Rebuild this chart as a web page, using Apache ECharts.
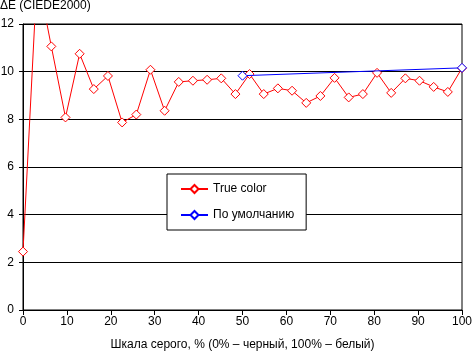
<!DOCTYPE html>
<html>
<head>
<meta charset="utf-8">
<script src="https://cdn.jsdelivr.net/npm/echarts@6/dist/echarts.min.js"></script>
<style>
html,body{margin:0;padding:0;background:#fff;}
#chart{width:472px;height:353px;}
</style>
</head>
<body>
<div id="chart"></div>
<script>
// Data
var trueColorX = [0, 3.23, 6.45, 9.68, 12.9, 16.13, 19.35, 22.58, 25.81, 29.03, 32.26, 35.48, 38.71, 41.94, 45.16, 48.39, 51.61, 54.84, 58.06, 61.29, 64.52, 67.74, 70.97, 74.19, 77.42, 80.65, 83.87, 87.1, 90.32, 93.55, 96.77, 100];
var trueColorY = [2.45, 14.1, 11.06, 8.08, 10.75, 9.27, 9.82, 7.87, 8.2, 10.08, 8.36, 9.57, 9.62, 9.66, 9.72, 9.06, 9.9, 9.06, 9.3, 9.2, 8.69, 8.98, 9.74, 8.92, 9.06, 9.95, 9.11, 9.72, 9.62, 9.36, 9.15, 10.15];
var defaultX = [50, 100];
var defaultY = [9.83, 10.16];
var yTicks = [0, 2, 4, 6, 8, 10, 12];
var xTicks = [0, 10, 20, 30, 40, 50, 60, 70, 80, 90, 100];
var seriesNames = ['True color', 'По умолчанию'];
var yTitle = 'ΔE (CIEDE2000)';
var xTitle = 'Шкала серого, % (0% – черный, 100% – белый)';

function pairs(xs, ys){ return xs.map(function(x,i){ return [x, ys[i]]; }); }

var font = 'Liberation Sans, Arial, sans-serif';
var chart = echarts.init(document.getElementById('chart'), null, {renderer:'canvas'});
chart.setOption({
  animation: false,
  backgroundColor: '#fff',
  textStyle: {fontFamily: font, color: '#000'},
  title: {
    text: yTitle, left: 0, top: 0, padding: 0,
    textStyle: {fontFamily: font, fontSize: 12, fontWeight: 'normal', color: '#000'}
  },
  grid: {left: 23, right: 10, top: 24, bottom: 43, show: true, borderColor: '#000', borderWidth: 1, backgroundColor: 'transparent', containLabel: false, outerBoundsMode: 'none'},
  legend: {
    left: 167, top: 174, orient: 'vertical', z: 10,
    backgroundColor: '#fff', borderColor: '#000', borderWidth: 1,
    padding: [9, 12, 9, 13],
    itemWidth: 27, itemHeight: 10, itemGap: 14,
    textStyle: {fontFamily: font, fontSize: 12, color: '#000'},
    data: seriesNames
  },
  xAxis: {
    type: 'value', min: xTicks[0], max: xTicks[xTicks.length-1], interval: 10,
    name: xTitle, nameLocation: 'middle', nameGap: 29,
    nameTextStyle: {fontFamily: font, fontSize: 12, color: '#000'},
    axisLine: {lineStyle: {color: '#000', width: 1}},
    axisTick: {show: true, length: 5, lineStyle: {color: '#000'}},
    axisLabel: {fontFamily: font, fontSize: 12, color: '#000', margin: 6},
    splitLine: {show: false}
  },
  yAxis: {
    type: 'value', min: yTicks[0], max: yTicks[yTicks.length-1], interval: 2,
    axisLine: {show: true, lineStyle: {color: '#000', width: 1}},
    axisTick: {show: true, length: 4, lineStyle: {color: '#000'}},
    axisLabel: {fontFamily: font, fontSize: 12, color: '#000', margin: 9},
    splitLine: {show: true, lineStyle: {color: '#000', width: 1}}
  },
  series: [
    {
      name: seriesNames[0], type: 'line', data: pairs(trueColorX, trueColorY), z: 2,
      symbol: 'diamond', symbolSize: 9, showAllSymbol: true, clip: true,
      lineStyle: {color: '#ff0000', width: 1},
      itemStyle: {color: '#fff', borderColor: '#ff0000', borderWidth: 1},
      emphasis: {disabled: true}
    },
    {
      name: seriesNames[1], type: 'line', data: pairs(defaultX, defaultY), z: 3,
      symbol: 'diamond', symbolSize: 9, clip: true,
      lineStyle: {color: '#0000ff', width: 1},
      itemStyle: {color: '#fff', borderColor: '#0000ff', borderWidth: 1},
      emphasis: {disabled: true}
    }
  ]
});
</script>
</body>
</html>
